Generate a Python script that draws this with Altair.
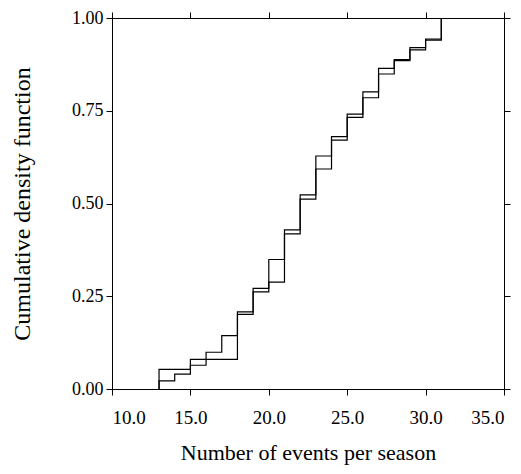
import altair as alt
import pandas as pd

events = [13, 14, 15, 16, 17, 18, 19, 20, 21, 22, 23, 24, 25, 26, 27, 28, 29, 30, 31]
cdf_a = [0.053, 0.053, 0.080, 0.080, 0.080, 0.208, 0.271, 0.349, 0.429, 0.523,
         0.628, 0.680, 0.741, 0.801, 0.864, 0.888, 0.920, 0.943, 1.000]
cdf_b = [0.022, 0.040, 0.064, 0.099, 0.144, 0.201, 0.262, 0.288, 0.418, 0.512,
         0.593, 0.671, 0.732, 0.785, 0.849, 0.885, 0.914, 0.940, 1.000]

rows = []
for name, vals in (("A", cdf_a), ("B", cdf_b)):
    rows.append({"x": events[0], "y": 0.0, "series": name, "order": 0})
    for i, (xv, yv) in enumerate(zip(events, vals)):
        rows.append({"x": xv, "y": yv, "series": name, "order": i + 1})
df = pd.DataFrame(rows)

FONT = "Liberation Serif"

xscale = alt.Scale(domain=[10, 35], nice=False, zero=False)
yscale = alt.Scale(domain=[0, 1], nice=False)

common_axis = dict(domainColor="black", tickColor="black", tickSize=6,
                   domainWidth=1, tickWidth=1, grid=False,
                   labelFont=FONT, titleFont=FONT, labelColor="black",
                   titleColor="black")

lines = alt.Chart(df).mark_line(interpolate="step-after", color="black",
                                strokeWidth=1.2).encode(
    x=alt.X("x:Q", scale=xscale,
            axis=alt.Axis(title="Number of events per season", values=[10, 15, 20, 25, 30, 35],
                          format=".1f", labelFontSize=19, titleFontSize=22,
                          titleFontWeight="normal", labelPadding=13, titlePadding=15,
                          **common_axis)),
    y=alt.Y("y:Q", scale=yscale,
            axis=alt.Axis(title="Cumulative density function", values=[0, 0.25, 0.5, 0.75, 1.0],
                          format=".2f", labelFontSize=18, titleFontSize=24,
                          titleFontWeight="normal", labelPadding=3, titlePadding=37,
                          **common_axis)),
    detail="series:N",
    order="order:Q",
)

frame = alt.Chart(df).mark_point(opacity=0).encode(
    x=alt.X("x:Q", scale=xscale,
            axis=alt.Axis(orient="top", title=None, labels=False,
                          values=[10, 15, 20, 25, 30, 35], **common_axis)),
    y=alt.Y("y:Q", scale=yscale,
            axis=alt.Axis(orient="right", title=None, labels=False,
                          values=[0, 0.25, 0.5, 0.75, 1.0], **common_axis)),
)

chart = alt.layer(lines, frame).resolve_axis(x="independent", y="independent").properties(
    width=392, height=371,
    autosize=alt.AutoSizeParams(type="none"),
    padding={"left": 104, "top": 10, "right": 9, "bottom": 77},
).configure_view(stroke=None).configure(background="white")

chart.save("out.html", embed_options={"renderer": "svg", "actions": False})
